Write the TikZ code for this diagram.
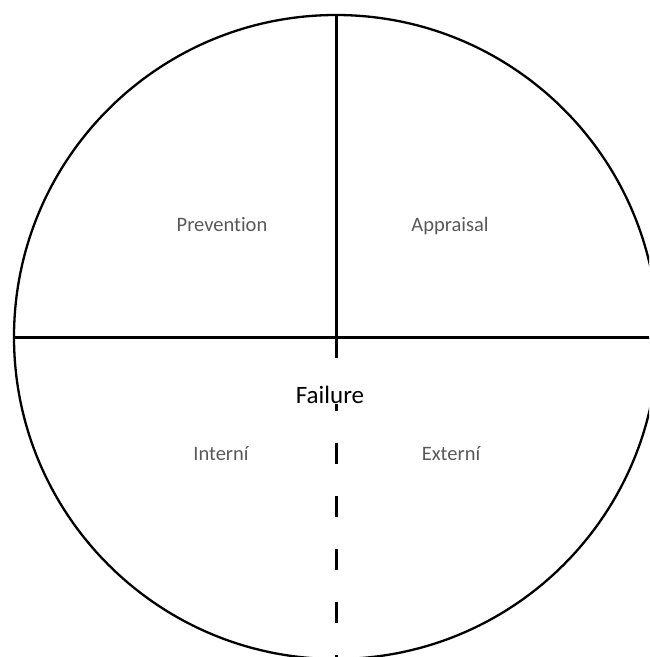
\documentclass[tikz,border=0pt]{standalone}
\usepackage{fontspec}
\setmainfont[Ligatures=NoCommon]{Carlito}
\definecolor{labelgray}{HTML}{595959}
\tikzset{
  quad/.style={anchor=base, text=labelgray, font=\fontsize{20.5}{24}\selectfont, inner sep=0pt},
  failtxt/.style={anchor=base, text=black, font=\fontsize{25}{28}\selectfont, fill=white, inner sep=1pt},
  divider/.style={line width=3pt, draw=black},
}
\begin{document}
\begin{tikzpicture}[x=1pt, y=-1pt]
\useasboundingbox (0,0) rectangle (649,657);
\clip (0,0) rectangle (649,657);
\node[circle, draw=black, line width=2.3pt, minimum size=644pt, inner sep=0pt, outer sep=0pt] (c) at (336,337) {};
\draw[divider] (c.north) -- (c.center);
\draw[divider] (c.west) -- (c.east);
\draw[divider, dash pattern=on 21pt off 32pt] (c.center) -- (c.south);
\node[quad] (prev) at (222,231) {Prevention};
\node[quad] (appr) at (450,231) {Appraisal};
\node[quad] (int) at (221,460) {Interní};
\node[quad] (ext) at (451,460) {Externí};
\node[failtxt] (fail) at (330,403) {Failure};
\end{tikzpicture}
\end{document}
